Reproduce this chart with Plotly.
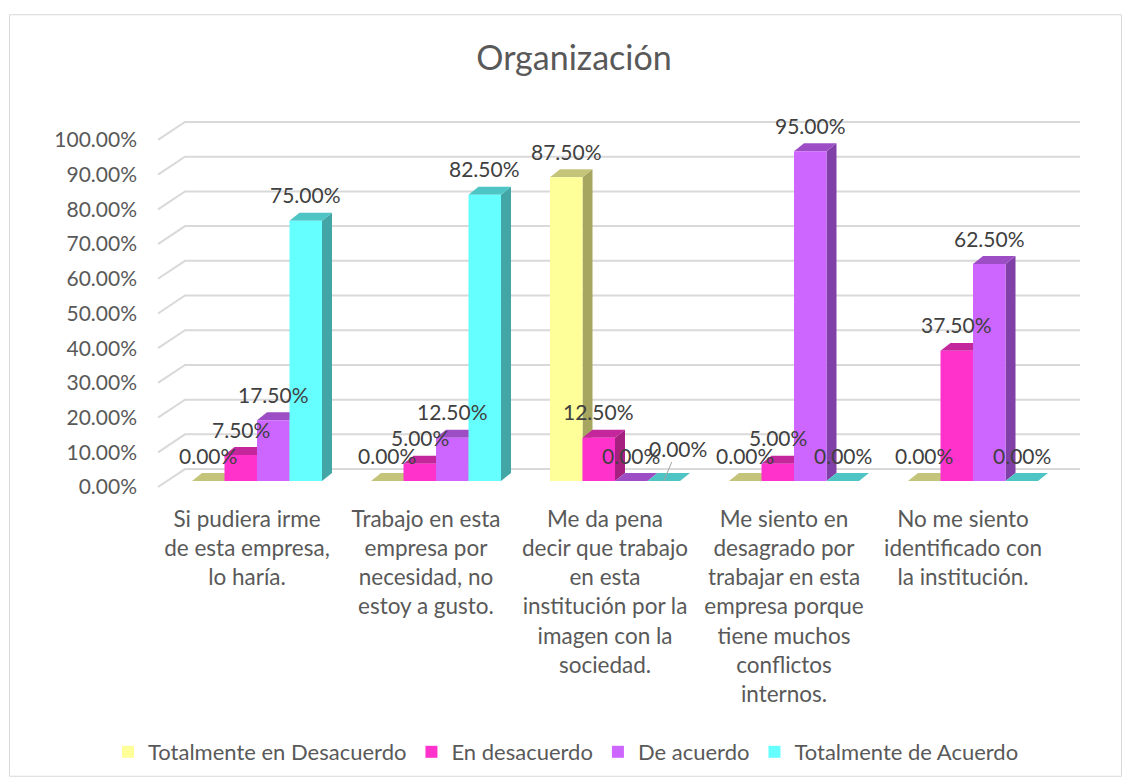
import plotly.graph_objects as go

# ---------------- data ----------------
categories = [
    "Si pudiera irme<br>de esta empresa,<br>lo haría.",
    "Trabajo en esta<br>empresa por<br>necesidad, no<br>estoy a gusto.",
    "Me da pena<br>decir que trabajo<br>en esta<br>institución por la<br>imagen con la<br>sociedad.",
    "Me siento en<br>desagrado por<br>trabajar en esta<br>empresa porque<br>tiene muchos<br>conflictos<br>internos.",
    "No me siento<br>identificado con<br>la institución.",
]
series_names = ["Totalmente en Desacuerdo", "En desacuerdo", "De acuerdo", "Totalmente de Acuerdo"]
totalmente_desacuerdo = [0.0, 0.0, 0.875, 0.0, 0.0]
en_desacuerdo = [0.075, 0.05, 0.125, 0.05, 0.375]
de_acuerdo = [0.175, 0.125, 0.0, 0.95, 0.625]
totalmente_acuerdo = [0.75, 0.825, 0.0, 0.0, 0.0]
y_ticks = [0, 0.1, 0.2, 0.3, 0.4, 0.5, 0.6, 0.7, 0.8, 0.9, 1.0]
title_text = "Organización"

# ---------------- styles ----------------
front_colors = ["#FFFF99", "#FF33CC", "#CC66FF", "#66FFFF"]
side_colors = ["#A6A660", "#A6217F", "#8040A8", "#42A6A6"]
top_colors = ["#C4C47A", "#C4279C", "#9D4EC4", "#4EC4C4"]
FONT = "Lato"
TXT = "#595959"
LBL = "#404040"

W, H = 1130, 783
ML, MR, MT, MB = 158, 50, 113, 290
PW, PH = W - ML - MR, H - MT - MB
PX_PER_X = 179.0
PX_PER_Y = 348.0
X_LO = (ML - 257) / PX_PER_X
X_HI = X_LO + PW / PX_PER_X
Y_LO = -((H - MB) - 482) / PX_PER_Y
Y_HI = Y_LO + PH / PX_PER_Y
DX = 10 / PX_PER_X          # bar depth (x)
DY = 8 / PX_PER_Y           # bar depth (y)
GRID_FRONT = -6 / PX_PER_Y  # front end of gridline relative to value
GRID_BACK = 12 / PX_PER_Y   # back wall relative to value
LABEL_SHIFT = 6 / PX_PER_Y
CAT_SHIFT = 10 / PX_PER_X
GROUP_W = 130 / PX_PER_X
BAR_W = GROUP_W / 4


def paper_x(px):
    return (px - ML) / PW


def paper_y(py):
    return ((H - MB) - py) / PH


series = [totalmente_desacuerdo, en_desacuerdo, de_acuerdo, totalmente_acuerdo]
xs = list(range(len(categories)))

fig = go.Figure()
for name, vals, col in zip(series_names, series, front_colors):
    fig.add_trace(go.Bar(
        x=xs, y=vals, name=name,
        marker=dict(color=col, line=dict(width=0)),
        hoverinfo="skip",
    ))

# invisible trace carrying the label axes
fig.add_trace(go.Scatter(x=[0], y=[0], xaxis="x2", yaxis="y2", mode="markers",
                         marker=dict(opacity=0), showlegend=False, hoverinfo="skip"))

shapes = []
# perspective gridlines
gx = paper_x(ML + 27)
for v in y_ticks:
    shapes.append(dict(
        type="path", xref="paper", yref="y", layer="below",
        path=f"M 0,{v + GRID_FRONT} L {gx},{v + GRID_BACK} L 1,{v + GRID_BACK}",
        line=dict(color="#D9D9D9", width=2),
    ))

# 3D side and top faces computed from the data
for g in xs:
    for i, vals in enumerate(series):
        v = vals[g]
        xc = g + (i - 1.5) * BAR_W
        xl, xr = xc - BAR_W / 2, xc + BAR_W / 2
        shapes.append(dict(
            type="path", xref="x", yref="y", layer="below",
            path=f"M {xr},0 L {xr + DX},{DY} L {xr + DX},{v + DY} L {xr},{v} Z",
            fillcolor=side_colors[i], line=dict(width=0),
        ))
        shapes.append(dict(
            type="path", xref="x", yref="y", layer="below",
            path=f"M {xl},{v} L {xl + DX},{v + DY} L {xr + DX},{v + DY} L {xr},{v} Z",
            fillcolor=top_colors[i], line=dict(width=0),
        ))

# chart border
shapes.append(dict(type="rect", xref="paper", yref="paper", layer="below",
                   x0=paper_x(9.5), x1=paper_x(1121.5), y0=paper_y(778), y1=paper_y(14.5),
                   line=dict(color="#D9D9D9", width=1), fillcolor="rgba(0,0,0,0)"))

annotations = []
for g in xs:
    for i, vals in enumerate(series):
        v = vals[g]
        xc = g + (i - 1.5) * BAR_W
        txt = f"{v * 100:.2f}%"
        if g == 2 and i == 3:
            annotations.append(dict(
                x=xc, y=v, xref="x", yref="y", text=txt, showarrow=True,
                arrowhead=0, arrowwidth=1, arrowcolor="#A6A6A6", ax=14, ay=-33,
                font=dict(family=FONT, size=21, color=LBL),
            ))
        else:
            annotations.append(dict(
                x=xc, y=v, xref="x", yref="y", text=txt, showarrow=False,
                yshift=26, yanchor="middle", xanchor="center",
                font=dict(family=FONT, size=21, color=LBL),
            ))

fig.update_layout(
    width=W, height=H,
    margin=dict(l=ML, r=MR, t=MT, b=MB),
    paper_bgcolor="white", plot_bgcolor="white",
    barmode="group", bargap=1 - GROUP_W, bargroupgap=0,
    title=dict(text=title_text, x=paper_x(574), xref="paper", xanchor="center",
               y=1 - 58 / H, yref="container", yanchor="middle",
               font=dict(family=FONT, size=34, color=TXT)),
    xaxis=dict(range=[X_LO, X_HI], visible=False, fixedrange=True),
    yaxis=dict(range=[Y_LO, Y_HI], visible=False, fixedrange=True),
    xaxis2=dict(range=[X_LO + CAT_SHIFT, X_HI + CAT_SHIFT], overlaying="x", side="bottom",
                tickmode="array", tickvals=xs, ticktext=categories,
                showgrid=False, zeroline=False, showline=False, ticks="",
                ticklabelstandoff=11,
                tickfont=dict(family=FONT, size=22.5, color=TXT), fixedrange=True),
    yaxis2=dict(range=[Y_LO + LABEL_SHIFT, Y_HI + LABEL_SHIFT], overlaying="y", side="left",
                tickmode="array", tickvals=y_ticks, tickformat=".2%",
                showgrid=False, zeroline=False, showline=False, ticks="",
                ticklabelstandoff=20,
                tickfont=dict(family=FONT, size=21, color=TXT), fixedrange=True),
    legend=dict(orientation="h", x=paper_x(566), xanchor="center",
                y=paper_y(752), yanchor="middle",
                font=dict(family=FONT, size=22, color=TXT), traceorder="normal"),
    shapes=shapes,
    annotations=annotations,
)

fig.write_html("out.html", config={"displayModeBar": False},
               post_script="document.body.style.margin='0px';")
